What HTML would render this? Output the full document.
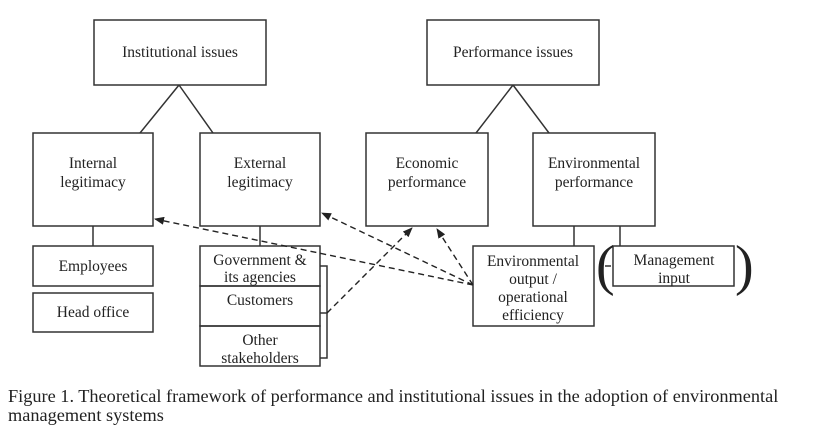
<!DOCTYPE html>
<html><head><style>
body{margin:0;background:#fff;width:823px;height:427px;overflow:hidden}
svg text{font-family:"Liberation Serif",serif;font-size:15.5px;fill:#222}
</style></head><body>
<svg width="823" height="427" viewBox="0 0 823 427">
<defs><marker id="a" markerWidth="10" markerHeight="8" refX="9" refY="4" orient="auto" markerUnits="userSpaceOnUse"><path d="M0,0 L10,4 L0,8 z" fill="#222"/></marker></defs>
<g fill="none" stroke="#333" stroke-width="1.5">
<rect x="94" y="20" width="172" height="65"/>
<rect x="427" y="20" width="172" height="65"/>
<path d="M179,85 L140,133 M179,85 L213,133 M513,85 L476,133 M513,85 L549,133"/>
<rect x="33" y="133" width="120" height="93"/>
<rect x="200" y="133" width="120" height="93"/>
<rect x="366" y="133" width="122" height="93"/>
<rect x="533" y="133" width="122" height="93"/>
<path d="M93,226 V246 M260,226 V246 M574,226 V246 M620,226 V246"/>
<rect x="33" y="246" width="120" height="40"/>
<rect x="33" y="293" width="120" height="39"/>
<rect x="200" y="246" width="120" height="40"/>
<rect x="200" y="286" width="120" height="40"/>
<rect x="200" y="326" width="120" height="40"/>
<path d="M320,266 H327 V358 H320 M327,313 H320"/>
<rect x="473" y="246" width="121" height="80"/>
<rect x="613" y="246" width="121" height="40"/>
</g>
<g fill="none" stroke="#222" stroke-width="1.4" stroke-dasharray="6,4">
<path d="M473,285 L155,219" marker-end="url(#a)"/>
<path d="M473,285 L322,213" marker-end="url(#a)"/>
<path d="M473,285 L437,229" marker-end="url(#a)"/>
<path d="M327,313 L412,228" marker-end="url(#a)"/>
<path d="M605,266 L613,266"/>
</g>
<text x="596" y="284" style="font-size:56px">(</text>
<text x="735" y="284" style="font-size:56px">)</text>
<g text-anchor="middle">
<text x="180" y="57">Institutional issues</text>
<text x="513" y="57">Performance issues</text>
<text x="93" y="168">Internal</text><text x="93" y="187">legitimacy</text>
<text x="260" y="168">External</text><text x="260" y="187">legitimacy</text>
<text x="427" y="168">Economic</text><text x="427" y="187">performance</text>
<text x="594" y="168">Environmental</text><text x="594" y="187">performance</text>
<text x="93" y="271">Employees</text>
<text x="93" y="317">Head office</text>
<text x="260" y="265">Government &amp;</text><text x="260" y="282">its agencies</text>
<text x="260" y="305">Customers</text>
<text x="260" y="345">Other</text><text x="260" y="363">stakeholders</text>
<text x="533" y="266">Environmental</text><text x="533" y="284">output /</text><text x="533" y="302">operational</text><text x="533" y="320">efficiency</text>
<text x="674" y="265">Management</text><text x="674" y="283">input</text>
</g>
<text x="8" y="402" style="font-size:18.3px">Figure 1.  Theoretical framework of performance and institutional issues in the adoption of environmental</text>
<text x="8" y="421" style="font-size:18.3px">management systems</text>
</svg>
</body></html>
